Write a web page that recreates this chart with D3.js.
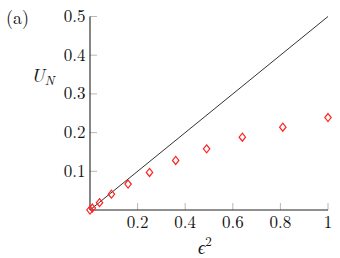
<!DOCTYPE html>
<html><head><meta charset="utf-8">
<script src="https://cdn.jsdelivr.net/npm/d3@7"></script>
<style>
html,body{margin:0;padding:0;background:#fff;}
</style></head>
<body><svg id="c" width="340" height="258"></svg>
<script>
const eps2 = [0, 0.01, 0.04, 0.09, 0.16, 0.25, 0.36, 0.49, 0.64, 0.81, 1];
const UN = [0, 0.005, 0.019, 0.041, 0.067, 0.097, 0.128, 0.158, 0.188, 0.214, 0.239];
const lineX = [0, 1];
const lineY = [0, 0.5];
const xTicks = [0.2, 0.4, 0.6, 0.8, 1];
const yTicks = [0.1, 0.2, 0.3, 0.4, 0.5];

const FONT = "Latin Modern Roman";
const svg = d3.select("#c");
const x = d3.scaleLinear().domain([0, 1]).range([90, 328]);
const y = d3.scaleLinear().domain([0, 0.5]).range([210, 16.5]);
const fmt = d => d === 1 ? "1" : d3.format(".1f")(d);

// ticks (inward, grey)
svg.append("g").selectAll("line").data(xTicks).join("line")
  .attr("x1", d => x(d)).attr("x2", d => x(d))
  .attr("y1", y(0)).attr("y2", y(0) - 7)
  .attr("stroke", "#b8b8b8").attr("stroke-width", 1);
svg.append("g").selectAll("line").data(yTicks).join("line")
  .attr("y1", d => y(d)).attr("y2", d => y(d))
  .attr("x1", x(0)).attr("x2", x(0) + 7)
  .attr("stroke", "#b8b8b8").attr("stroke-width", 1);

// tick labels
svg.append("g").selectAll("text").data(xTicks).join("text")
  .attr("x", d => x(d)).attr("y", 227.5)
  .attr("text-anchor", "middle").attr("font-size", 17).attr("font-family", FONT).attr("fill", "#111")
  .text(fmt);
svg.append("g").selectAll("text").data(yTicks).join("text")
  .attr("x", x(0) - 4.5).attr("y", d => y(d) + 5.5)
  .attr("text-anchor", "end").attr("font-size", 17).attr("font-family", FONT).attr("fill", "#111")
  .text(fmt);

// axis lines
svg.append("line").attr("x1", x(0)).attr("x2", x(1)).attr("y1", y(0)).attr("y2", y(0))
  .attr("stroke", "#222").attr("stroke-width", 1.1);
svg.append("line").attr("x1", x(0)).attr("x2", x(0)).attr("y1", y(0)).attr("y2", y(0.5))
  .attr("stroke", "#222").attr("stroke-width", 1.1);

// reference line
svg.append("path")
  .datum(lineX.map((d, i) => [d, lineY[i]]))
  .attr("d", d3.line().x(d => x(d[0])).y(d => y(d[1])))
  .attr("fill", "none").attr("stroke", "#333").attr("stroke-width", 1);

// diamonds
svg.append("g").selectAll("path").data(eps2.map((d, i) => [d, UN[i]])).join("path")
  .attr("transform", d => `translate(${x(d[0])},${y(d[1])})`)
  .attr("d", "M0,-4L3.2,0L0,4L-3.2,0Z")
  .attr("fill", "none").attr("stroke", "#f22").attr("stroke-width", 1.2);

// labels
const ul = svg.append("text").attr("x", 31).attr("y", 82).attr("font-size", 18.5)
  .attr("font-family", FONT).attr("font-style", "italic").attr("fill", "#111");
ul.append("tspan").text("U");
ul.append("tspan").attr("font-size", 13).attr("dy", 3).text("N");

const el = svg.append("text").attr("x", 198).attr("y", 253.5).attr("font-size", 18)
  .attr("font-family", FONT).attr("font-style", "italic").attr("fill", "#111");
el.append("tspan").text("ϵ");
el.append("tspan").attr("font-size", 13).attr("font-style", "normal").attr("dy", -8).text("2");

svg.append("text").attr("x", 6).attr("y", 24).attr("font-size", 18).attr("font-family", FONT).attr("fill", "#111").text("(a)");
</script></body></html>
